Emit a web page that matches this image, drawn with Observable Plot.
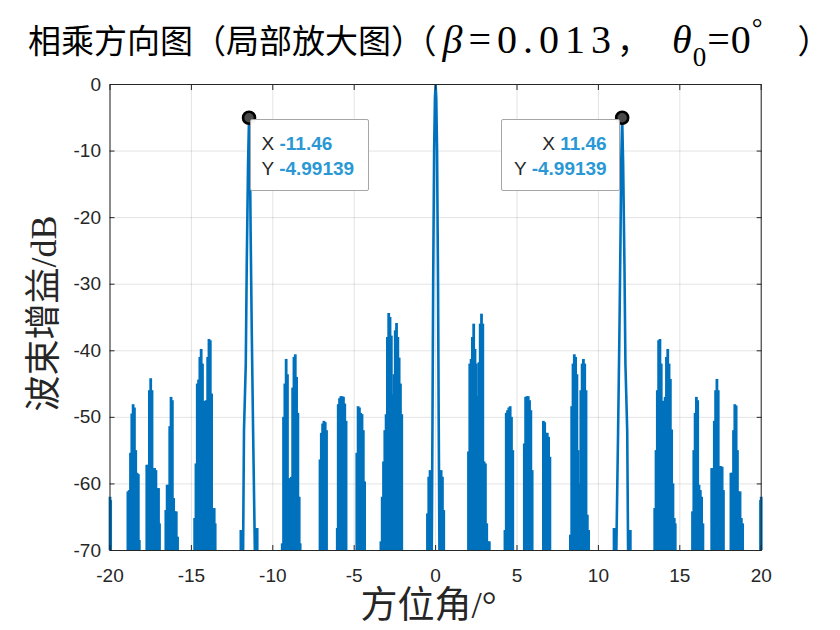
<!DOCTYPE html>
<html>
<head>
<meta charset="utf-8">
<script src="https://cdn.jsdelivr.net/npm/d3@7"></script>
<script src="https://cdn.jsdelivr.net/npm/@observablehq/plot@0.6"></script>
<style>
  body { margin: 0; background: #fff; }
  #wrap { position: relative; width: 840px; height: 630px; overflow: hidden; background: #fff; }
  #title { position: absolute; top: 17px; left: 28px; white-space: nowrap; color: #000; line-height: 44px; height: 44px; }
  #title .cjk { font-family: "Noto Sans CJK SC"; font-size: 33px; }
  #title .par2 { font-family: "Noto Sans CJK SC"; font-size: 33px; letter-spacing: -4px; }
  #title .lat { font-family: "Liberation Serif"; font-size: 40px; letter-spacing: 6px; }
  #title .lat2 { font-family: "Liberation Serif"; font-size: 40px; letter-spacing: 1px; }
  #title sub { font-size: 27px; vertical-align: -13px; line-height: 0; letter-spacing: 1px; }
  #title sup { font-size: 27px; vertical-align: 16px; line-height: 0; }
  #chart { position: absolute; top: 70px; left: 0; }
  .tip { position: absolute; box-sizing: border-box; background: rgba(255,255,255,0.96); border: 1px solid #a6a6a6; border-radius: 2px;
         font-family: "Liberation Sans", Arial, sans-serif; font-size: 19px; line-height: 25px; padding-top: 11px; color: #262626; }
  .tip b { color: #2a98d4; }
</style>
</head>
<body>
<div id="wrap">
  <div id="title"><span class="cjk">相乘方向图（局部放大图</span><span class="par2">）（</span><span class="lat" style="margin-left:10px"><i>β</i>=0.013</span><span class="cjk" style="margin-right:22px">，</span><span class="lat2"><i>θ</i><sub>0</sub>=0<sup>°</sup></span><span class="cjk" style="margin-left:34px">）</span></div>
  <div id="chart"></div>
</div>
<script>
// ---- axes ----
const xDomain = [-20, 20];
const yDomain = [-70, 0];
const xTicks = [-20, -15, -10, -5, 0, 5, 10, 15, 20];
const yTicks = [0, -10, -20, -30, -40, -50, -60, -70];
const xLabel = "方位角/°";
const yLabel = "波束增益/dB";

// ---- side-lobe spikes (azimuth deg, gain dB) ----
const spikeDeg = [
  -20.00, -19.96,
  -18.90, -18.82, -18.74, -18.66, -18.58, -18.50, -18.42, -18.34, -18.26, -18.20,
  -17.74, -17.66, -17.58, -17.50, -17.42, -17.34, -17.26, -17.18, -17.10, -17.02, -16.96,
  -16.57, -16.49, -16.41, -16.33, -16.25, -16.17, -16.09, -16.01, -15.93, -15.85,
  -14.80, -14.72, -14.64, -14.56, -14.48, -14.40, -14.32, -14.24, -14.16, -14.08, -14.00, -13.92, -13.84, -13.76, -13.68, -13.60, -13.54,
  -11.96, -11.90, -11.02, -10.96,
  -9.42, -9.34, -9.26, -9.18, -9.10, -9.02, -8.94, -8.86, -8.78, -8.70, -8.62, -8.54, -8.46, -8.38, -8.32,
  -7.10, -7.02, -6.94, -6.86, -6.78, -6.70,
  -6.04, -5.98, -5.90, -5.82, -5.74, -5.66, -5.58, -5.50,
  -4.84, -4.76, -4.68, -4.60, -4.52, -4.44, -4.36,
  -3.36, -3.28, -3.20, -3.12, -3.04, -2.96, -2.88, -2.80, -2.72, -2.64, -2.56, -2.48, -2.40, -2.32, -2.24, -2.16, -2.08,
  -0.50, -0.42, -0.34, 0.34, 0.42, 0.50,
  2.02, 2.10, 2.18, 2.26, 2.34, 2.42, 2.50, 2.58, 2.66, 2.74, 2.82, 2.90, 2.98, 3.06, 3.14, 3.22, 3.30,
  4.26, 4.34, 4.42, 4.50, 4.58, 4.66, 4.74,
  5.45, 5.53, 5.61, 5.69, 5.77, 5.85, 5.93,
  6.62, 6.70, 6.78, 6.86, 6.94, 7.02,
  8.28, 8.36, 8.44, 8.52, 8.60, 8.68, 8.76, 8.84, 8.92, 9.00, 9.08, 9.16, 9.24, 9.32, 9.40,
  10.96, 11.02, 11.90, 11.96,
  13.46, 13.54, 13.62, 13.70, 13.78, 13.86, 13.94, 14.02, 14.10, 14.18, 14.26, 14.34, 14.42, 14.50, 14.58, 14.66, 14.72,
  15.78, 15.86, 15.94, 16.02, 16.10, 16.18, 16.26, 16.34, 16.42,
  16.96, 17.04, 17.12, 17.20, 17.28, 17.36, 17.44, 17.52, 17.60, 17.68,
  18.14, 18.22, 18.30, 18.38, 18.46, 18.54, 18.62, 18.70, 18.78, 18.86,
  19.96, 20.00
];
const spikeDb = [
  -62.0, -62.5,
  -61.2, -61.0, -55.4, -49.5, -48.1, -48.6, -55.0, -58.4, -58.6, -68.5,
  -57.2, -57.2, -46.0, -44.2, -46.0, -57.7, -57.7, -58.0, -60.7, -60.7, -66.0,
  -64.0, -60.2, -60.2, -51.4, -47.0, -47.5, -62.2, -64.2, -64.2, -68.0,
  -65.2, -57.0, -45.0, -44.4, -41.0, -39.8, -42.0, -47.6, -47.6, -47.5, -41.0, -38.3, -38.5, -46.5, -63.7, -63.7, -66.0,
  -67.0, -67.0, -66.7, -66.7,
  -69.0, -50.0, -45.0, -41.3, -43.6, -59.2, -66.0, -59.0, -45.6, -41.0, -40.6, -44.0, -49.4, -62.0, -69.0,
  -56.4, -52.4, -51.0, -50.6, -50.8, -52.0,
  -66.7, -48.1, -47.2, -46.9, -46.9, -47.0, -48.0, -50.6,
  -55.4, -48.4, -48.6, -49.4, -49.6, -52.0, -59.7,
  -68.7, -62.0, -56.7, -52.0, -49.6, -38.0, -34.4, -35.0, -37.8, -46.6, -43.6, -37.0, -35.9, -38.0, -41.1, -45.0, -49.6,
  -64.5, -59.0, -58.0, -58.0, -59.0, -64.0,
  -55.2, -42.0, -41.3, -38.0, -36.0, -39.8, -42.0, -46.9, -41.8, -36.0, -34.5, -36.0, -56.7, -57.0, -66.0, -68.7, -68.7,
  -67.0, -49.4, -49.0, -48.6, -48.4, -50.0, -55.0,
  -54.0, -47.0, -46.9, -46.9, -47.5, -49.0, -58.0,
  -50.6, -50.8, -52.4, -52.4, -53.0, -56.0,
  -67.7, -48.4, -42.0, -40.6, -41.0, -43.6, -55.0, -60.0, -46.0, -42.0, -41.3, -42.0, -46.0, -64.7, -67.0,
  -66.7, -66.7, -67.0, -67.0,
  -63.7, -55.0, -46.0, -38.5, -38.3, -42.0, -47.6, -47.6, -47.0, -41.0, -39.8, -42.0, -44.3, -51.9, -60.0, -65.2, -66.0,
  -64.2, -55.0, -49.4, -47.0, -47.5, -60.2, -61.0, -62.0, -66.0,
  -57.7, -57.7, -50.6, -46.0, -44.3, -46.0, -57.4, -57.4, -57.5, -61.0,
  -58.4, -58.4, -52.0, -48.1, -48.3, -55.0, -61.2, -61.2, -65.2, -66.0,
  -62.5, -62.0
];

// ---- main lobes (deg, dB) ----
const mainLobeLeftDeg   = [-11.83, -11.77, -11.66, -11.60, -11.52, -11.46, -11.40, -11.36, -11.29, -11.21, -11.09];
const mainLobeLeftDb    = [-72, -52, -42, -27, -12, -4.99139, -12, -22.5, -37.5, -52, -72];
const mainLobeCenterDeg = [-0.24, -0.19, -0.15, -0.09, -0.04, 0, 0.04, 0.09, 0.15, 0.19, 0.24];
const mainLobeCenterDb  = [-72, -50, -30, -10, -2, 0, -2, -10, -30, -50, -72];
const mainLobeRightDeg  = [11.09, 11.21, 11.29, 11.36, 11.40, 11.46, 11.52, 11.60, 11.66, 11.77, 11.83];
const mainLobeRightDb   = [-72, -52, -37.5, -22.5, -12, -4.99139, -12, -27, -42, -52, -72];

// ---- data tips ----
const tipDeg = [-11.46, 11.46];
const tipDb = [-4.99139, -4.99139];
const tipXText = ["-11.46", "11.46"];
const tipYText = ["-4.99139", "-4.99139"];

// ---- build tables ----
const blue = "#0072BD";
const spikes = spikeDeg.map((d, i) => ({deg: d, db: spikeDb[i]}));
const lobes = [
  ...mainLobeLeftDeg.map((d, i) => ({lobe: "L", deg: d, db: mainLobeLeftDb[i]})),
  ...mainLobeCenterDeg.map((d, i) => ({lobe: "C", deg: d, db: mainLobeCenterDb[i]})),
  ...mainLobeRightDeg.map((d, i) => ({lobe: "R", deg: d, db: mainLobeRightDb[i]}))
];
const tips = tipDeg.map((d, i) => ({deg: d, db: tipDb[i], xt: tipXText[i], yt: tipYText[i]}));

const chart = Plot.plot({
  width: 840,
  height: 560,
  marginLeft: 109.5,
  marginRight: 79.3,
  marginTop: 14,
  marginBottom: 80,
  style: {fontFamily: "'Liberation Sans', Arial, sans-serif", fontSize: "19px", color: "#262626", background: "#fff"},
  x: {domain: xDomain, axis: null},
  y: {domain: yDomain, axis: null},
  marks: [
    Plot.gridX(xTicks, {stroke: "#000", strokeOpacity: 0.11}),
    Plot.gridY(yTicks, {stroke: "#000", strokeOpacity: 0.11}),
    Plot.ruleX(spikes, {x: "deg", y1: yDomain[0], y2: "db", stroke: blue, strokeWidth: 2.8}),
    Plot.line(lobes, {x: "deg", y: "db", z: "lobe", stroke: blue, strokeWidth: 2.6, clip: true}),
    Plot.frame({stroke: "#262626", strokeWidth: 1}),
    Plot.axisX(xTicks, {anchor: "bottom", tickSize: -5, tickPadding: 23, tickFormat: d => String(d), label: null, color: "#262626", fontSize: 19}),
    Plot.axisX(xTicks, {anchor: "top", tickSize: -5, tickFormat: () => "", label: null, color: "#262626"}),
    Plot.axisY(yTicks, {anchor: "left", tickSize: -5, tickPadding: 14, tickFormat: d => String(d), label: null, color: "#262626", fontSize: 19}),
    Plot.axisY(yTicks, {anchor: "right", tickSize: -5, tickFormat: () => "", label: null, color: "#262626"}),
    Plot.text([xLabel], {frameAnchor: "bottom", lineAnchor: "middle", textAnchor: "middle", dy: 56, dx: -7, fontSize: 37, fill: "#262626", fontFamily: "'Liberation Serif', 'Noto Sans CJK SC'"}),
    Plot.text([yLabel], {frameAnchor: "left", lineAnchor: "middle", textAnchor: "middle", rotate: -90, dx: -66, dy: -4, fontSize: 36, fill: "#262626", fontFamily: "'Liberation Serif', 'Noto Sans CJK SC'"}),
    Plot.dot(tips, {x: "deg", y: "db", r: 6, fill: "#4a4a4a", stroke: "#000", strokeWidth: 2.6})
  ]
});
document.getElementById("chart").appendChild(chart);

// data-tip boxes anchored to the scaled data points
const sx = chart.scale("x"), sy = chart.scale("y");
const wrap = document.getElementById("wrap");
tips.forEach((t, i) => {
  const px = sx.apply(t.deg), py = 70 + sy.apply(t.db);
  const box = document.createElement("div");
  box.className = "tip";
  box.style.width = "119px";
  box.style.height = "72px";
  box.style.top = (py + 2) + "px";
  if (t.deg < 0) {
    box.style.left = (px + 1) + "px";
    box.style.textAlign = "left";
    box.style.paddingLeft = "11px";
  } else {
    box.style.left = (px - 2 - 119) + "px";
    box.style.textAlign = "right";
    box.style.paddingRight = "12px";
  }
  box.innerHTML = `<div>X <b>${t.xt}</b></div><div>Y <b>${t.yt}</b></div>`;
  wrap.appendChild(box);
});
</script>
</body>
</html>
